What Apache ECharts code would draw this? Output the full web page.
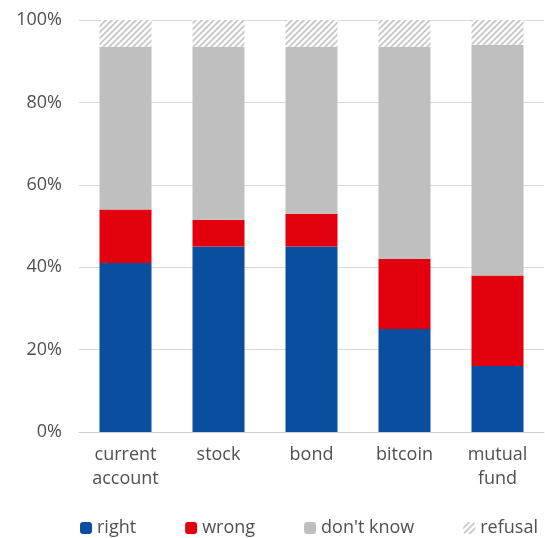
<!DOCTYPE html>
<html>
<head>
<meta charset="utf-8">
<script src="https://cdn.jsdelivr.net/npm/echarts@6.0.0/dist/echarts.min.js"></script>
<style>
html,body{margin:0;padding:0;background:#fff;}
#chart{width:545px;height:538px;}
</style>
</head>
<body>
<div id="chart"></div>
<script>
const categories = ['current\naccount', 'stock', 'bond', 'bitcoin', 'mutual\nfund'];
const rightVals = [41, 45, 45, 25, 16];
const wrongVals = [13, 6.5, 8, 17, 22];
const dontKnowVals = [39.5, 42, 40.5, 51.5, 56];
const refusalVals = [6.5, 6.5, 6.5, 6.5, 6];
const yTicks = [0, 20, 40, 60, 80, 100];

function hatch() {
  const c = document.createElement('canvas');
  c.width = 6; c.height = 6;
  const g = c.getContext('2d');
  g.fillStyle = '#ffffff';
  g.fillRect(0, 0, 6, 6);
  g.strokeStyle = '#c4c4c4';
  g.lineWidth = 1.6;
  g.beginPath();
  g.moveTo(-1, 7); g.lineTo(7, -1);
  g.moveTo(-4, 4); g.lineTo(4, -4);
  g.moveTo(2, 10); g.lineTo(10, 2);
  g.stroke();
  return c;
}

const font = '"Open Sans", sans-serif';
const chart = echarts.init(document.getElementById('chart'));
const mk = (name, data, color) => ({
  name, type: 'bar', stack: 'all', data, barWidth: 52,
  itemStyle: { color }, emphasis: { disabled: true }
});
chart.setOption({
  animation: false,
  grid: { left: 79, right: 1, top: 20, bottom: 106 },
  xAxis: {
    type: 'category', data: categories,
    axisLine: { show: true, lineStyle: { color: '#d0d0d0', width: 1 } },
    axisTick: { show: false },
    axisLabel: { color: '#505050', fontSize: 18, fontFamily: font, margin: 11, lineHeight: 24 }
  },
  yAxis: {
    type: 'value', min: 0, max: 100, interval: 20,
    axisLabel: { formatter: v => yTicks.includes(v) ? v + '%' : '', color: '#505050', fontSize: 18, fontFamily: font, margin: 17 },
    splitLine: { lineStyle: { color: '#d9d9d9', width: 1 } },
    axisLine: { show: false }, axisTick: { show: false }
  },
  legend: {
    left: 75, top: 514, itemWidth: 12, itemHeight: 12, itemGap: 49,
    textStyle: { color: '#505050', fontSize: 18, fontFamily: font },
    data: ['right', 'wrong', "don't know", 'refusal']
  },
  series: [
    mk('right', rightVals, '#0a4f9f'),
    mk('wrong', wrongVals, '#e2000f'),
    mk("don't know", dontKnowVals, '#bfbfbf'),
    mk('refusal', refusalVals, { image: hatch(), repeat: 'repeat' })
  ]
});
</script>
</body>
</html>
